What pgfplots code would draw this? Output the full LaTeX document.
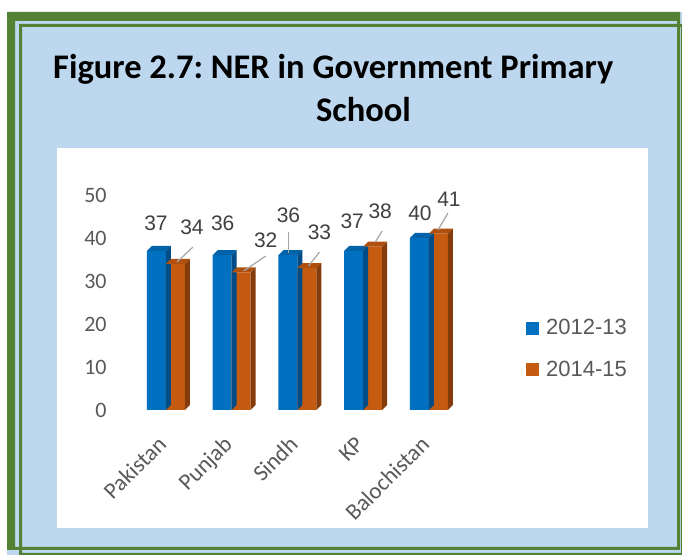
\documentclass[border=0pt]{standalone}
\usepackage{fontspec}
\setmainfont{Carlito}
\newfontfamily\numfont{Liberation Sans}
\usepackage{pgfplots}
\usepackage{pgfplotstable}
\pgfplotsset{compat=1.18}
\frenchspacing

\definecolor{framegreen}{HTML}{548235}
\definecolor{panelblue}{HTML}{BDD7EE}
\definecolor{barblue}{HTML}{0070C0}
\definecolor{bluetop}{HTML}{0062A8}
\definecolor{blueside}{HTML}{004C86}
\definecolor{barorange}{HTML}{C55A11}
\definecolor{orangetop}{HTML}{B0500F}
\definecolor{orangeside}{HTML}{843C0C}
\definecolor{ticktext}{HTML}{595959}
\definecolor{labeltext}{HTML}{404040}
\definecolor{leadergray}{HTML}{A6A6A6}

% x = category, y = NER, lx/ly = label offset, sx..ey = leader line (bp, from bar top)
\pgfplotstableread{
x y  lx  ly  sx  sy   ex  ey
0 37 -10 28  0   0    0   0
1 36 -9  32  0   0    0   0
2 36 -9  40  -9  2.2  -9  23.2
3 37 -11 30  0   0    0   0
4 40 -9  25  0   0    0   0
}\datafirst
\pgfplotstableread{
x y  lx  ly  sx  sy   ex  ey
0 34 26  37  11  1.8  27  16.8
1 32 34  32  12  1.4  34  16.4
2 33 22  36  11  2    22  16
3 38 17  35  12  4.6  19  15.6
4 41 20  34  9   3.7  19  20.7
}\datasecond

\newcommand\readrow[1]{%
  \pgfmathtruncatemacro\ri{\idx}%
  \pgfplotstablegetelem{\ri}{y}\of#1\let\barval\pgfplotsretval
  \pgfplotstablegetelem{\ri}{lx}\of#1\let\labx\pgfplotsretval
  \pgfplotstablegetelem{\ri}{ly}\of#1\let\laby\pgfplotsretval
  \pgfplotstablegetelem{\ri}{sx}\of#1\let\lsx\pgfplotsretval
  \pgfplotstablegetelem{\ri}{sy}\of#1\let\lsy\pgfplotsretval
  \pgfplotstablegetelem{\ri}{ex}\of#1\let\lex\pgfplotsretval
  \pgfplotstablegetelem{\ri}{ey}\of#1\let\ley\pgfplotsretval}

% top and side faces of a 3D bar, drawn from its top centre point
\newcommand\barfaces[3]{%
  \pgfmathsetlengthmacro\bh{\barval*4.3bp}%
  \pgfsetfillcolor{#2}%
  \pgfpathmoveto{\pgfpoint{#1}{0bp}}%
  \pgfpathlineto{\pgfpoint{#1+19bp}{0bp}}%
  \pgfpathlineto{\pgfpoint{#1+24bp}{5bp}}%
  \pgfpathlineto{\pgfpoint{#1+5bp}{5bp}}%
  \pgfpathclose\pgfusepathqfill
  \pgfsetfillcolor{#3}%
  \pgfpathmoveto{\pgfpoint{#1+19bp}{0bp}}%
  \pgfpathlineto{\pgfpoint{#1+24bp}{5bp}}%
  \pgfpathlineto{\pgfpoint{#1+24bp}{5bp-\bh}}%
  \pgfpathlineto{\pgfpoint{#1+19bp}{-\bh}}%
  \pgfpathclose\pgfusepathqfill}

% leader line and value label
\newcommand\barlabel{%
  \pgfsetlinewidth{1.2bp}\pgfsetstrokecolor{leadergray}%
  \pgfpathmoveto{\pgfpoint{\lsx bp}{\lsy bp}}%
  \pgfpathlineto{\pgfpoint{\lex bp}{\ley bp}}%
  \pgfusepathqstroke
  \pgftext[x=\labx bp,y=\laby bp]{\color{labeltext}\numfont\fontsize{21bp}{21bp}\selectfont\barval}}

\pgfdeclareplotmark{facesfirst}{\readrow\datafirst\barfaces{-19bp}{bluetop}{blueside}}
\pgfdeclareplotmark{facessecond}{\readrow\datasecond\barfaces{0bp}{orangetop}{orangeside}}
\pgfdeclareplotmark{labelfirst}{\readrow\datafirst\barlabel}
\pgfdeclareplotmark{labelsecond}{\readrow\datasecond\barlabel}

\pgfplotsset{
  marksonly/.style={forget plot, only marks, mark=#1,
    visualization depends on={\coordindex \as \idx}},
}

\newcommand\titlefont{\fontsize{34.5bp}{40bp}\selectfont\bfseries}

\begin{document}
\begin{tikzpicture}
\useasboundingbox (0,0) rectangle (682bp,555bp);
\fill[panelblue] (7bp,0bp) rectangle (682bp,543bp);
\fill[framegreen,even odd rule] (7bp,5bp) rectangle (680bp,543bp) (15bp,8bp) rectangle (677bp,534bp);
\fill[framegreen,even odd rule] (19bp,0bp) rectangle (682.5bp,531bp) (22bp,2bp) rectangle (681bp,528bp);
\fill[white] (57bp,27bp) rectangle (648bp,407bp);
\node[anchor=base west, inner sep=0pt, font=\titlefont] at (53bp,476bp) {Figure 2.7: NER in Government Primary};
\node[anchor=base, inner sep=0pt, font=\titlefont] at (363.5bp,433bp) {School};

\begin{axis}[
  at={(106.8bp,145bp)}, anchor=south west,
  x=65.75bp, y=4.3bp,
  xmin=-0.9, xmax=7, ymin=0, ymax=50,
  axis line style={draw=none}, tick style={draw=none},
  xtick={0,...,4}, xticklabels={Pakistan,Punjab,Sindh,KP,Balochistan},
  ytick={0,10,...,50}, yticklabels={0,10,20,30,40,50},
  xticklabel style={yshift=-34bp, rotate=45, anchor=east, inner sep=0pt,
    text height=0.7em, text depth=0.2em,
    font=\fontsize{23bp}{23bp}\selectfont, text=ticktext},
  yticklabel style={anchor=east, inner sep=0pt,
    font=\fontsize{22bp}{22bp}\selectfont, text=ticktext},
  clip=false,
  legend cell align=left,
  legend style={at={(0.807,0.284)}, anchor=west, draw=none, fill=none,
    inner sep=0pt, row sep=21bp,
    font=\numfont\fontsize{22bp}{22bp}\selectfont, text=ticktext},
]
\addplot[ybar, bar width=19bp, bar shift=-9.5bp, fill=barblue, draw=none,
  legend image code/.code={\fill[barblue] (0bp,-6.5bp) rectangle (13bp,6.5bp);\path (18bp,0bp);}]
  table[x=x,y=y]{\datafirst};
\addplot[marksonly=facesfirst] table[x=x,y=y]{\datafirst};
\addplot[ybar, bar width=19bp, bar shift=9.5bp, fill=barorange, draw=none,
  legend image code/.code={\fill[barorange] (0bp,-6.5bp) rectangle (13bp,6.5bp);\path (18bp,0bp);}]
  table[x=x,y=y]{\datasecond};
\addplot[marksonly=facessecond] table[x=x,y=y]{\datasecond};
\addplot[marksonly=labelfirst] table[x=x,y=y]{\datafirst};
\addplot[marksonly=labelsecond] table[x=x,y=y]{\datasecond};
\legend{2012-13,2014-15}
\end{axis}
\end{tikzpicture}
\end{document}
